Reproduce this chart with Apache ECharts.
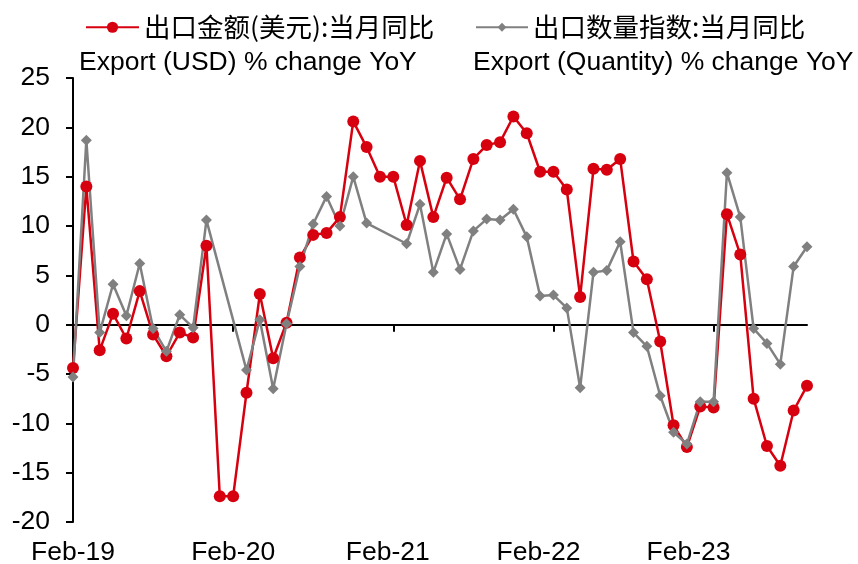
<!DOCTYPE html>
<html>
<head>
<meta charset="utf-8">
<script src="https://cdn.jsdelivr.net/npm/echarts@6/dist/echarts.min.js"></script>
<style>
* { margin: 0; padding: 0; }
body { background: #fff; }
</style>
</head>
<body>
<div id="main" style="width: 858px;height: 564px;background:#fff"></div>
<script>
// 月份 Feb-19 .. Sep-23
var months = [
  'Feb-19','Mar-19','Apr-19','May-19','Jun-19','Jul-19','Aug-19','Sep-19','Oct-19','Nov-19','Dec-19',
  'Jan-20','Feb-20','Mar-20','Apr-20','May-20','Jun-20','Jul-20','Aug-20','Sep-20','Oct-20','Nov-20','Dec-20',
  'Jan-21','Feb-21','Mar-21','Apr-21','May-21','Jun-21','Jul-21','Aug-21','Sep-21','Oct-21','Nov-21','Dec-21',
  'Jan-22','Feb-22','Mar-22','Apr-22','May-22','Jun-22','Jul-22','Aug-22','Sep-22','Oct-22','Nov-22','Dec-22',
  'Jan-23','Feb-23','Mar-23','Apr-23','May-23','Jun-23','Jul-23','Aug-23','Sep-23'
]

// 出口金额(美元):当月同比
var exportUsd = [
  -4.4, 14.0, -2.6, 1.1, -1.4, 3.4, -1.0, -3.2, -0.8, -1.3, 8.0,
  -17.4, -17.4, -6.9, 3.1, -3.4, 0.2, 6.8, 9.1, 9.3, 10.9, 20.6, 18.0,
  15.0, 15.0, 10.1, 16.6, 10.9, 14.9, 12.7, 16.8, 18.2, 18.5, 21.1, 19.4,
  15.5, 15.5, 13.7, 2.8, 15.8, 15.7, 16.8, 6.4, 4.6, -1.7, -10.2, -12.4,
  -8.3, -8.4, 11.2, 7.1, -7.5, -12.3, -14.3, -8.7, -6.2
]

// 出口数量指数:当月同比 (1-2月缺失的月份为 null)
var exportQty = [
  -5.3, 18.7, -0.8, 4.1, 0.9, 6.2, -0.4, -2.7, 1.0, -0.3, 10.6,
  null, null, -4.6, 0.5, -6.5, 0.1, 5.9, 10.2, 13.0, 10.0, 15.0, 10.3,
  null, null, 8.2, 12.2, 5.3, 9.2, 5.6, 9.5, 10.7, 10.6, 11.7, 8.9,
  2.9, 3.0, 1.7, -6.4, 5.3, 5.5, 8.4, -0.8, -2.2, -7.2, -10.9, -12.1,
  -7.8, -7.8, 15.4, 10.9, -0.4, -1.9, -4.0, 5.9, 7.9
]

var usdName = '出口金额(美元):当月同比'
var qtyName = '出口数量指数:当月同比'
var usdNameEn = 'Export (USD) % change YoY'
var qtyNameEn = 'Export (Quantity) % change YoY'

var latin = 'Liberation Sans, Arial, sans-serif'
var cjk = '"Noto Sans CJK SC", sans-serif'

// 原图年份标签逐年略向左偏，用右侧 padding 模拟
function yearLabelStyle(pad) {
  return { fontSize: 26.5, fontFamily: latin, color: '#000', padding: [0, pad, 0, 0] }
}

var chart = echarts.init(document.getElementById('main'))
chart.setOption({
  animation: false,
  grid: {
    left: 73,
    right: 51,
    top: 78,
    bottom: 42,
    outerBoundsMode: 'none' // 不让标签挤压绘图区
  },
  legend: [
    {
      data: [usdName],
      left: 80,
      top: 9,
      itemWidth: 53,
      itemHeight: 14,
      textStyle: { fontFamily: cjk, fontSize: 26.5, color: '#000' }
    },
    {
      data: [qtyName],
      left: 470,
      top: 9,
      itemWidth: 52,
      itemHeight: 11,
      textStyle: { fontFamily: cjk, fontSize: 26.5, color: '#000' }
    }
  ],
  graphic: [
    { type: 'text', left: 79, top: 49, style: { text: usdNameEn, font: '26.5px ' + latin, fill: '#000' } },
    { type: 'text', left: 473, top: 49, style: { text: qtyNameEn, font: '26.5px ' + latin, fill: '#000' } }
  ],
  xAxis: [
    {
      // 底部只放标签
      type: 'category',
      data: months,
      boundaryGap: false,
      axisLine: { show: false, onZero: false },
      axisTick: { show: false },
      axisLabel: {
        interval: 11,
        margin: 17,
        fontSize: 26.5,
        fontFamily: latin,
        color: '#000',
        formatter: function (value, index) {
          var k = Math.round(index / 12)
          return '{y' + k + '|' + value + '}'
        },
        rich: {
          y0: yearLabelStyle(0),
          y1: yearLabelStyle(0),
          y2: yearLabelStyle(11),
          y3: yearLabelStyle(30),
          y4: yearLabelStyle(50)
        }
      }
    },
    {
      // 0 轴线和年度刻度
      type: 'category',
      data: months,
      boundaryGap: false,
      position: 'bottom',
      axisLine: { onZero: true, lineStyle: { color: '#000', width: 2 } },
      axisTick: { interval: 11, length: 7, lineStyle: { color: '#000', width: 2 } },
      axisLabel: { show: false }
    }
  ],
  yAxis: {
    type: 'value',
    min: -20,
    max: 25,
    interval: 5,
    splitLine: { show: false },
    axisLine: { show: true, onZero: false, lineStyle: { color: '#000', width: 2 } },
    axisTick: { show: true, length: 7, lineStyle: { color: '#000', width: 2 } },
    axisLabel: { margin: 23, fontSize: 26.5, fontFamily: latin, color: '#000' }
  },
  series: [
    {
      name: usdName,
      type: 'line',
      data: exportUsd,
      symbol: 'circle',
      symbolSize: 12,
      showAllSymbol: true,
      itemStyle: { color: '#d7000f' },
      lineStyle: { color: '#d7000f', width: 2.5 }
    },
    {
      name: qtyName,
      type: 'line',
      data: exportQty,
      connectNulls: true,
      symbol: 'diamond',
      symbolSize: 11,
      showAllSymbol: true,
      itemStyle: { color: '#808080' },
      lineStyle: { color: '#808080', width: 2.5 }
    }
  ]
})
</script>
</body>
</html>
